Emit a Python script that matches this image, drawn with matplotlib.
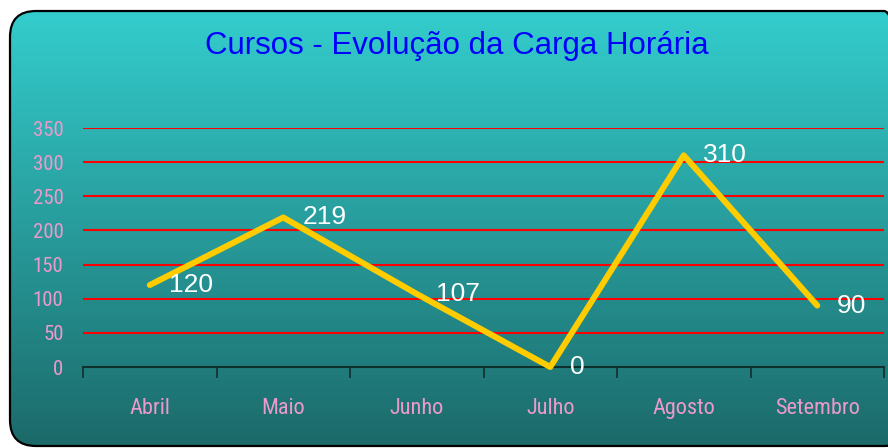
import matplotlib
matplotlib.use("Agg")
import matplotlib.pyplot as plt
import numpy as np
from matplotlib.patches import FancyBboxPatch
from matplotlib.colors import LinearSegmentedColormap
from matplotlib import font_manager as fm

months = ["Abril", "Maio", "Junho", "Julho", "Agosto", "Setembro"]
hours = [120, 219, 107, 0, 310, 90]
yticks = [0, 50, 100, 150, 200, 250, 300, 350]
title = "Cursos - Evolução da Carga Horária"

# pick a narrow font if one is installed
names = {f.name for f in fm.fontManager.ttflist}
narrow_kw = {"family": ["Liberation Sans", "DejaVu Sans"]}
for cand in ["Liberation Sans Narrow", "Roboto Condensed", "Open Sans Condensed"]:
    if cand in names:
        narrow_kw = {"family": [cand, "DejaVu Sans"]}
        break
else:
    if any(f.name == "DejaVu Sans" and f.stretch == "condensed" for f in fm.fontManager.ttflist):
        narrow_kw = {"family": ["DejaVu Sans"], "stretch": "condensed"}

W, H = 888, 448
fig = plt.figure(figsize=(W / 100, H / 100), dpi=100)
fig.patch.set_facecolor("white")

# background panel with gradient
bg = fig.add_axes([0, 0, 1, 1], zorder=0)
bg.set_xlim(0, W)
bg.set_ylim(0, H)
bg.axis("off")
cmap = LinearSegmentedColormap.from_list("teal", ["#1C6A6A", "#34CDCD"])
grad = np.linspace(0, 1, 256).reshape(-1, 1)
box = FancyBboxPatch((10, 2), 900, 435, boxstyle="round,pad=0,rounding_size=26",
                     facecolor="none", edgecolor="black", linewidth=1.6, zorder=3)
bg.add_patch(box)
im = bg.imshow(grad, cmap=cmap, origin="lower", extent=[10, 910, 2, 437],
               aspect="auto", zorder=1)
im.set_clip_path(box)

sans = ["Liberation Sans", "DejaVu Sans"]

fig.text(457 / W, 1 - 46 / H, title, color="#0000FF", fontsize=22.5,
         family=sans, ha="center", va="center")

ax = fig.add_axes([83 / W, 1 - 367 / H, (884 - 83) / W, (367 - 128) / H], zorder=2)
ax.patch.set_alpha(0)
x = np.arange(len(months))
ax.set_xlim(-0.5, len(months) - 0.5)
ax.set_ylim(0, 350)
for s in ["left", "right", "top"]:
    ax.spines[s].set_visible(False)
ax.spines["bottom"].set_color("#10302E")
ax.spines["bottom"].set_linewidth(1.5)
ax.set_yticks(yticks)
ax.set_yticklabels([str(v) for v in yticks], color="#EC9ACB", fontsize=15, **narrow_kw)
ax.tick_params(axis="y", length=0, pad=14)
ax.set_xticks(x)
ax.set_xticklabels(months, color="#EC9ACB", fontsize=16, **narrow_kw)
ax.tick_params(axis="x", which="major", length=0, pad=22)
ax.set_xticks(np.arange(-0.5, len(months)), minor=True)
ax.tick_params(axis="x", which="minor", length=8, width=1.2, color="#10302E", direction="out")
for v in yticks[1:]:
    ax.axhline(v, color="#FF0000", linewidth=1.5, zorder=1)

ax.plot(x, hours, color="#FFCC00", linewidth=4.3, solid_capstyle="round",
        solid_joinstyle="round", zorder=3, clip_on=False)
for xi, v in zip(x, hours):
    ax.annotate(str(v), (xi, v), xytext=(14, 0), textcoords="offset points",
                color="white", fontsize=19, family=sans, ha="left", va="center",
                zorder=4)

fig.savefig("out.png", dpi=100)
